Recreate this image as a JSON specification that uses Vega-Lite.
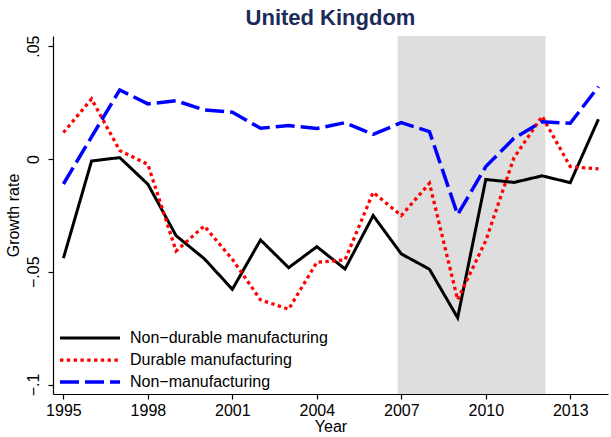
{
  "$schema": "https://vega.github.io/schema/vega-lite/v6.json",
  "width": 555,
  "height": 358,
  "autosize": {"type": "none"},
  "padding": {"left": 53, "top": 36, "right": 3, "bottom": 43},
  "background": "white",
  "config": {
    "font": "Liberation Sans",
    "view": {"stroke": null},
    "axis": {
      "grid": false,
      "domainColor": "black",
      "domainWidth": 1.2,
      "tickColor": "black",
      "tickWidth": 1.2,
      "tickSize": 5,
      "labelColor": "black",
      "titleColor": "black",
      "labelFontSize": 16,
      "titleFontSize": 16,
      "titleFontWeight": "normal",
      "labelFont": "Liberation Sans",
      "titleFont": "Liberation Sans"
    }
  },
  "title": {
    "text": "United Kingdom",
    "fontSize": 22,
    "fontWeight": "bold",
    "color": "#1c2b57",
    "anchor": "middle",
    "frame": "group",
    "offset": 5,
    "font": "Liberation Sans"
  },
  "datasets": {
    "shade": [{"start": 2006.87, "end": 2012.12}],
    "series": [
      {"year": 1995, "series": "Non−durable manufacturing", "value": -0.044},
      {"year": 1996, "series": "Non−durable manufacturing", "value": -0.0009},
      {"year": 1997, "series": "Non−durable manufacturing", "value": 0.0006},
      {"year": 1998, "series": "Non−durable manufacturing", "value": -0.0112},
      {"year": 1999, "series": "Non−durable manufacturing", "value": -0.034},
      {"year": 2000, "series": "Non−durable manufacturing", "value": -0.0442},
      {"year": 2001, "series": "Non−durable manufacturing", "value": -0.0578},
      {"year": 2002, "series": "Non−durable manufacturing", "value": -0.0359},
      {"year": 2003, "series": "Non−durable manufacturing", "value": -0.0482},
      {"year": 2004, "series": "Non−durable manufacturing", "value": -0.0389},
      {"year": 2005, "series": "Non−durable manufacturing", "value": -0.0488},
      {"year": 2006, "series": "Non−durable manufacturing", "value": -0.0251},
      {"year": 2007, "series": "Non−durable manufacturing", "value": -0.0421},
      {"year": 2008, "series": "Non−durable manufacturing", "value": -0.0489},
      {"year": 2009, "series": "Non−durable manufacturing", "value": -0.0704},
      {"year": 2010, "series": "Non−durable manufacturing", "value": -0.0091},
      {"year": 2011, "series": "Non−durable manufacturing", "value": -0.0104},
      {"year": 2012, "series": "Non−durable manufacturing", "value": -0.0075},
      {"year": 2013, "series": "Non−durable manufacturing", "value": -0.0105},
      {"year": 2014, "series": "Non−durable manufacturing", "value": 0.0176},
      {"year": 1995, "series": "Durable manufacturing", "value": 0.0117},
      {"year": 1996, "series": "Durable manufacturing", "value": 0.0266},
      {"year": 1997, "series": "Durable manufacturing", "value": 0.0037},
      {"year": 1998, "series": "Durable manufacturing", "value": -0.0024},
      {"year": 1999, "series": "Durable manufacturing", "value": -0.0408},
      {"year": 2000, "series": "Durable manufacturing", "value": -0.0297},
      {"year": 2001, "series": "Durable manufacturing", "value": -0.0445},
      {"year": 2002, "series": "Durable manufacturing", "value": -0.0625},
      {"year": 2003, "series": "Durable manufacturing", "value": -0.0666},
      {"year": 2004, "series": "Durable manufacturing", "value": -0.0458},
      {"year": 2005, "series": "Durable manufacturing", "value": -0.0448},
      {"year": 2006, "series": "Durable manufacturing", "value": -0.0148},
      {"year": 2007, "series": "Durable manufacturing", "value": -0.0251},
      {"year": 2008, "series": "Durable manufacturing", "value": -0.0108},
      {"year": 2009, "series": "Durable manufacturing", "value": -0.0624},
      {"year": 2010, "series": "Durable manufacturing", "value": -0.0362},
      {"year": 2011, "series": "Durable manufacturing", "value": 0.0005},
      {"year": 2012, "series": "Durable manufacturing", "value": 0.0189},
      {"year": 2013, "series": "Durable manufacturing", "value": -0.0034},
      {"year": 2014, "series": "Durable manufacturing", "value": -0.0044},
      {"year": 1995, "series": "Non−manufacturing", "value": -0.0111},
      {"year": 1996, "series": "Non−manufacturing", "value": 0.0098},
      {"year": 1997, "series": "Non−manufacturing", "value": 0.0306},
      {"year": 1998, "series": "Non−manufacturing", "value": 0.0244},
      {"year": 1999, "series": "Non−manufacturing", "value": 0.0258},
      {"year": 2000, "series": "Non−manufacturing", "value": 0.0217},
      {"year": 2001, "series": "Non−manufacturing", "value": 0.0207},
      {"year": 2002, "series": "Non−manufacturing", "value": 0.0136},
      {"year": 2003, "series": "Non−manufacturing", "value": 0.0148},
      {"year": 2004, "series": "Non−manufacturing", "value": 0.0135},
      {"year": 2005, "series": "Non−manufacturing", "value": 0.0161},
      {"year": 2006, "series": "Non−manufacturing", "value": 0.0109},
      {"year": 2007, "series": "Non−manufacturing", "value": 0.0161},
      {"year": 2008, "series": "Non−manufacturing", "value": 0.0121},
      {"year": 2009, "series": "Non−manufacturing", "value": -0.0247},
      {"year": 2010, "series": "Non−manufacturing", "value": -0.0034},
      {"year": 2011, "series": "Non−manufacturing", "value": 0.0092},
      {"year": 2012, "series": "Non−manufacturing", "value": 0.0165},
      {"year": 2013, "series": "Non−manufacturing", "value": 0.0158},
      {"year": 2014, "series": "Non−manufacturing", "value": 0.0321}
    ]
  },
  "layer": [
    {
      "data": {"name": "shade"},
      "mark": {"type": "rect", "color": "#dedede"},
      "encoding": {
        "x": {
          "field": "start",
          "type": "quantitative",
          "scale": {"domain": [1994.63, 2014.34], "nice": false, "zero": false},
          "axis": {"values": [1995, 1998, 2001, 2004, 2007, 2010, 2013], "format": "d", "title": "Year", "labelPadding": 3, "titlePadding": 0, "labelFlush": false}
        },
        "x2": {"field": "end"}
      }
    },
    {
      "data": {"name": "series"},
      "mark": {"type": "line", "strokeJoin": "miter", "strokeCap": "butt"},
      "encoding": {
        "x": {
          "field": "year",
          "type": "quantitative",
          "scale": {"domain": [1994.63, 2014.34], "nice": false, "zero": false},
          "axis": {"values": [1995, 1998, 2001, 2004, 2007, 2010, 2013], "format": "d", "title": "Year", "labelPadding": 3, "titlePadding": 0, "labelFlush": false}
        },
        "y": {
          "field": "value",
          "type": "quantitative",
          "scale": {"domain": [-0.1042, 0.0545], "nice": false, "zero": false},
          "axis": {
            "values": [-0.1, -0.05, 0, 0.05],
            "labelExpr": "datum.value == 0 ? '0' : replace(format(datum.value, '.2~f'), '0.', '.')",
            "labelAngle": -90,
            "labelAlign": "center",
            "labelBaseline": "bottom",
            "labelPadding": 7,
            "title": "Growth rate",
            "titlePadding": 4
          }
        },
        "color": {
          "field": "series",
          "type": "nominal",
          "scale": {"domain": ["Non−durable manufacturing", "Durable manufacturing", "Non−manufacturing"], "range": ["#000000", "#ff0000", "#0000ff"]},
          "legend": {
            "title": null,
            "orient": "none",
            "legendX": 7,
            "legendY": 294,
            "padding": 0,
            "symbolType": "M-6,0H6",
            "symbolSize": 100,
            "symbolStrokeWidth": 4,
            "symbolOffset": 22,
            "labelOffset": 32,
            "labelFontSize": 16,
            "labelColor": "black",
            "labelFont": "Liberation Sans",
            "rowPadding": 6,
            "labelLimit": 400
          }
        },
        "strokeDash": {
          "field": "series",
          "type": "nominal",
          "scale": {"domain": ["Non−durable manufacturing", "Durable manufacturing", "Non−manufacturing"], "range": [[1, 0], [3.4, 3.4], [19, 6]]},
          "legend": {
            "title": null,
            "orient": "none",
            "legendX": 7,
            "legendY": 294,
            "padding": 0,
            "symbolType": "M-6,0H6",
            "symbolSize": 100,
            "symbolStrokeWidth": 4,
            "symbolOffset": 22,
            "labelOffset": 32,
            "labelFontSize": 16,
            "labelColor": "black",
            "labelFont": "Liberation Sans",
            "rowPadding": 6,
            "labelLimit": 400
          }
        },
        "strokeWidth": {
          "field": "series",
          "type": "nominal",
          "scale": {"domain": ["Non−durable manufacturing", "Durable manufacturing", "Non−manufacturing"], "range": [3, 3.5, 4]},
          "legend": null
        }
      }
    }
  ]
}
